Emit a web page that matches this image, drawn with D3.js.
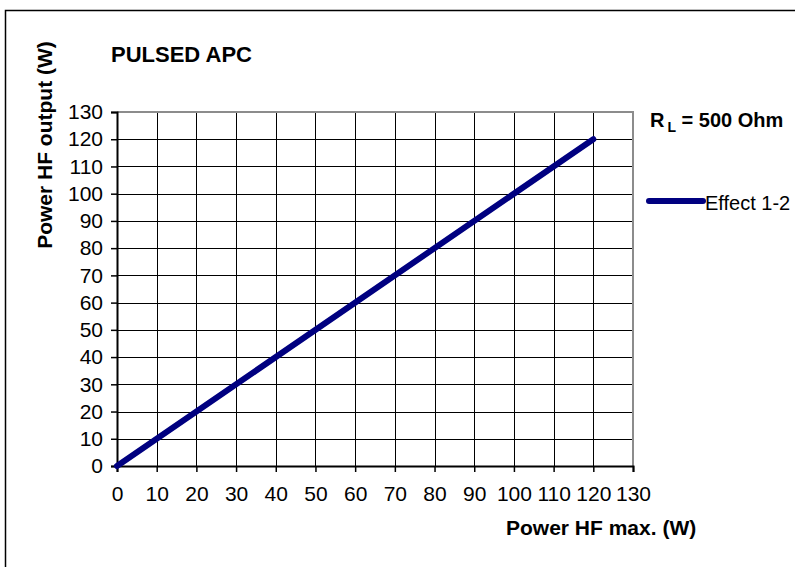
<!DOCTYPE html>
<html>
<head>
<meta charset="utf-8">
<script src="https://cdn.jsdelivr.net/npm/d3@7"></script>
<style>
  body { margin: 0; background: #fff; }
  svg { display: block; font-family: Arial, "Liberation Sans", sans-serif; }
</style>
</head>
<body>
<div id="chart"></div>
<script>
// data
const powerMax = [0, 120];
const powerOut = [0, 120];
const xTicks = d3.range(0, 131, 10);
const yTicks = d3.range(0, 131, 10);
const seriesName = "Effect 1-2";

const width = 795, height = 567;
const plot = { left: 117, right: 633, top: 112, bottom: 466 };

const svg = d3.select("#chart").append("svg")
    .attr("width", width)
    .attr("height", height);

// outer frame
svg.append("rect")
    .attr("x", 5.5).attr("y", 10.5)
    .attr("width", 800).attr("height", 580)
    .attr("fill", "none")
    .attr("stroke", "#000").attr("stroke-width", 1.5);

const x = d3.scaleLinear().domain([0, 130]).range([plot.left, plot.right]);
const y = d3.scaleLinear().domain([0, 130]).range([plot.bottom, plot.top]);

// grid
const grid = svg.append("g");
grid.selectAll(".vg").data(xTicks.slice(1, -1)).enter().append("line")
    .attr("x1", d => Math.round(x(d)) + 0.5).attr("x2", d => Math.round(x(d)) + 0.5)
    .attr("y1", plot.top).attr("y2", plot.bottom)
    .attr("stroke", "#000").attr("stroke-width", 1);
grid.selectAll(".hg").data(yTicks.slice(1, -1)).enter().append("line")
    .attr("y1", d => Math.round(y(d)) + 0.5).attr("y2", d => Math.round(y(d)) + 0.5)
    .attr("x1", plot.left).attr("x2", plot.right)
    .attr("stroke", "#000").attr("stroke-width", 1);

// plot border top/right in gray
svg.append("path")
    .attr("d", `M${plot.left},${plot.top}H${plot.right}V${plot.bottom}`)
    .attr("fill", "none")
    .attr("stroke", "#8c8c8c").attr("stroke-width", 2);

// axes
const xAxis = d3.axisBottom(x).tickValues(xTicks).tickSize(6).tickPadding(14);
const yAxis = d3.axisLeft(y).tickValues(yTicks).tickSize(6).tickPadding(8);

const gx = svg.append("g")
    .attr("transform", `translate(0,${plot.bottom})`)
    .call(xAxis);
const gy = svg.append("g")
    .attr("transform", `translate(${plot.left},0)`)
    .call(yAxis);

[gx, gy].forEach(g => {
    g.select(".domain").attr("stroke", "#000").attr("stroke-width", 2);
    g.selectAll(".tick line").attr("stroke", "#000").attr("stroke-width", 1.5);
    g.selectAll("text")
        .attr("font-family", "Arial, 'Liberation Sans', sans-serif")
        .attr("font-size", 21)
        .attr("fill", "#000");
});

// the series line
const pts = powerMax.map((d, i) => [d, powerOut[i]]);
svg.append("path")
    .datum(pts)
    .attr("d", d3.line().x(d => x(d[0])).y(d => y(d[1])))
    .attr("fill", "none")
    .attr("stroke", "#000080")
    .attr("stroke-width", 6)
    .attr("stroke-linecap", "round");

// titles
svg.append("text")
    .attr("x", 111).attr("y", 62)
    .attr("font-size", 22).attr("font-weight", "bold")
    .text("PULSED APC");

svg.append("text")
    .attr("transform", "translate(52,145) rotate(-90)")
    .attr("text-anchor", "middle")
    .attr("font-size", 21).attr("font-weight", "bold")
    .text("Power HF output (W)");

svg.append("text")
    .attr("x", 506).attr("y", 535)
    .attr("font-size", 21).attr("font-weight", "bold")
    .text("Power HF max. (W)");

// R_L note
const rl = svg.append("text")
    .attr("x", 650).attr("y", 127)
    .attr("font-size", 20).attr("font-weight", "bold");
rl.append("tspan").text("R");
rl.append("tspan").attr("font-size", 14).attr("dx", 3).attr("dy", 5).text("L");
rl.append("tspan").attr("dy", -5).text(" = 500 Ohm");

// legend
svg.append("line")
    .attr("x1", 649).attr("x2", 703)
    .attr("y1", 201).attr("y2", 201)
    .attr("stroke", "#000080").attr("stroke-width", 6)
    .attr("stroke-linecap", "round");
svg.append("text")
    .attr("x", 705).attr("y", 210)
    .attr("font-size", 20)
    .text(seriesName);
</script>
</body>
</html>
